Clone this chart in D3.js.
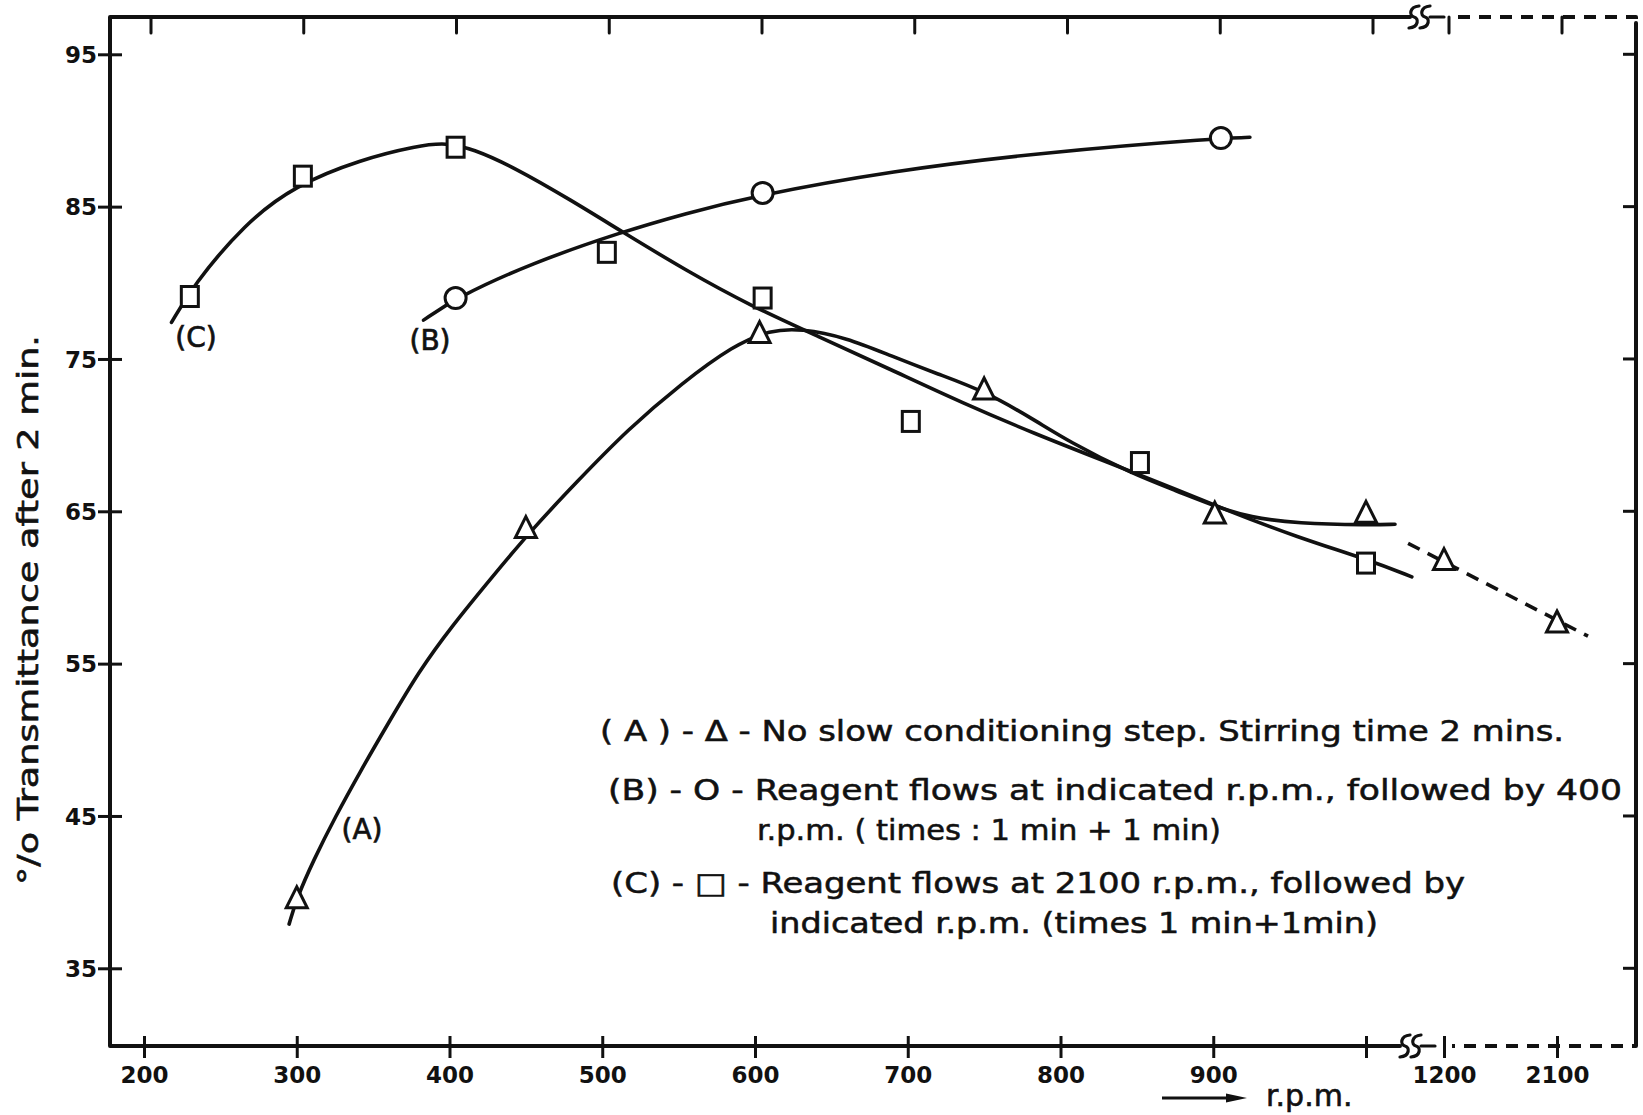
<!DOCTYPE html>
<html>
<head>
<meta charset="utf-8">
<script src="https://cdn.jsdelivr.net/npm/d3@7"></script>
<style>
  html, body { margin: 0; padding: 0; background: #fff; }
  svg { display: block; }
</style>
</head>
<body>
<svg id="chart" width="1643" height="1115"></svg>
<script>
// ---- tick values and labels ----
const rpmTicks = [200, 300, 400, 500, 600, 700, 800, 900, 1000];
const rpmTickLabels = ["200", "300", "400", "500", "600", "700", "800", "900", ""];
const rpmHighTicks = [1200, 2100];
const rpmHighTickLabels = ["1200", "2100"];
const transTicks = [95, 85, 75, 65, 55, 45, 35];

// ---- measured points ----
// (A) no slow conditioning step
const seriesA_rpm = [300, 450, 603, 750, 901, 1000];
const seriesA_pct = [39.5, 63.8, 76.6, 72.9, 64.75, 64.8];
const seriesAHigh_rpm = [1200, 2100];
const seriesAHigh_pct = [61.7, 57.6];
// (B) reagent at indicated r.p.m., then 400 r.p.m.
const seriesB_rpm = [404, 605, 905];
const seriesB_pct = [79.0, 85.9, 89.5];
// (C) reagent at 2100 r.p.m., then indicated r.p.m.
const seriesC_rpm = [230, 304, 404, 503, 605, 702, 852, 1000];
const seriesC_pct = [79.1, 87.0, 88.9, 82.0, 79.0, 70.9, 68.2, 61.6];

// ---- hand-drawn trend curves (knots) ----
const curveA_rpm = [295, 300, 311, 325, 342, 360, 380, 401, 428, 453, 483, 517, 552, 586, 610, 630, 660, 689, 720, 750, 783, 805, 846, 877, 902, 924, 955, 1002, 1019];
const curveA_pct = [37.9, 39.6, 42.1, 44.9, 48.0, 51.1, 54.5, 57.4, 60.7, 63.7, 66.9, 70.4, 73.4, 75.9, 76.9, 77.0, 76.4, 75.2, 74.0, 72.9, 71.0, 69.6, 67.5, 66.3, 65.3, 64.6, 64.2, 64.1, 64.15];
const curveAHigh_rpm = [914, 2347];
const curveAHigh_pct = [62.9, 56.8];
const curveB_rpm = [383, 404, 454, 513, 555, 597, 689, 792, 905, 924];
const curveB_pct = [77.55, 79.0, 81.3, 83.35, 84.56, 85.65, 87.35, 88.6, 89.5, 89.55];
const curveC_rpm = [218, 232, 266, 299, 342, 379, 398, 415, 442, 480, 513, 555, 597, 642, 689, 736, 783, 830, 877, 908, 955, 1002, 1030];
const curveC_pct = [77.4, 79.8, 83.9, 86.4, 88.1, 89.0, 89.2, 88.8, 87.6, 85.4, 83.35, 80.8, 78.5, 76.45, 74.3, 72.1, 70.1, 68.25, 66.4, 65.1, 63.3, 61.8, 60.7];

// ---- text ----
const yAxisTitle = "°/o Transmittance after 2 min.";
const xAxisTitle = "r.p.m.";
const curveNames = ["(A)", "(B)", "(C)"];
const legendLines = [
  "( A ) - Δ - No slow conditioning step. Stirring time 2 mins.",
  "(B) - O - Reagent flows at indicated r.p.m., followed by 400",
  "r.p.m. ( times : 1 min + 1 min)",
  "(C) - □ - Reagent flows at 2100 r.p.m., followed by",
  "indicated r.p.m. (times 1 min+1min)"
];

// ---- layout ----
const frame = { left: 110, top: 17, right: 1636, bottom: 1046 };
const breakX = 1400;
const svg = d3.select("#chart");
const INK = "#111";

const y = d3.scaleLinear().domain([35, 95]).range([968.3, 54.3]);
const xLow = d3.scaleLinear().domain([200, 1000]).range([144, 1366]);
const xHigh = d3.scaleLinear().domain([1200, 2100]).range([1444, 1557]);

const zip = (xs, ys) => xs.map((v, i) => [v, ys[i]]);

// ---- frame ----
const frameG = svg.append("g").attr("fill", "none").attr("stroke", INK)
  .attr("stroke-width", 4).attr("stroke-linecap", "round").attr("stroke-linejoin", "round");
// solid part: top, left, bottom, then right side
frameG.append("path")
  .attr("d", `M${breakX + 10},${frame.top} L${frame.left},${frame.top} L${frame.left},${frame.bottom} L${breakX},${frame.bottom}`);
frameG.append("path")
  .attr("d", `M${frame.right},${frame.top + 6} L${frame.right},${frame.bottom - 6}`);
// dashed continuation past the scale break
frameG.append("path").attr("stroke-dasharray", "12,9").attr("stroke-linecap", "butt")
  .attr("d", `M${1458},${frame.top} L${frame.right},${frame.top} L${frame.right},${frame.top + 8}`);
frameG.append("path").attr("stroke-dasharray", "12,9").attr("stroke-linecap", "butt")
  .attr("d", `M${frame.right},${frame.bottom - 8} L${frame.right},${frame.bottom} L${1452},${frame.bottom}`);

// break marks (double S) on top and bottom edges
function breakMark(cx, cy) {
  const g = svg.append("g").attr("fill", "none").attr("stroke", INK)
    .attr("stroke-width", 3.2).attr("stroke-linecap", "round");
  [0, 11].forEach(off => {
    const x0 = cx + off;
    g.append("path").attr("d",
      `M${x0 + 5},${cy - 11} C${x0 - 5},${cy - 10} ${x0 - 5},${cy - 1} ${x0},${cy} C${x0 + 5},${cy + 1} ${x0 + 5},${cy + 10} ${x0 - 5},${cy + 11}`);
  });
  g.append("path").attr("d", `M${cx + 16},${cy} L${cx + 30},${cy}`);
}
breakMark(breakX + 5, frame.bottom);
breakMark(breakX + 14, frame.top);

// ---- y axis ----
const tickFont = "'DejaVu Sans', sans-serif";
const gy = svg.append("g").attr("transform", `translate(${frame.left},0)`)
  .call(d3.axisLeft(y).tickValues(transTicks).tickSize(0).tickPadding(13));
gy.select(".domain").remove();
gy.selectAll(".tick line").attr("x1", -12).attr("x2", 12).attr("stroke", INK).attr("stroke-width", 3);
gy.selectAll(".tick text").attr("font-family", tickFont).attr("font-weight", "bold")
  .attr("font-size", 23).attr("fill", INK).attr("dy", "0.36em");

// right edge ticks
svg.append("g").selectAll("line").data(transTicks).join("line")
  .attr("x1", frame.right - 13).attr("x2", frame.right)
  .attr("y1", d => y(d)).attr("y2", d => y(d))
  .attr("stroke", INK).attr("stroke-width", 3);

// ---- x axis (linear part and the part past the break) ----
function styleX(g) {
  g.select(".domain").remove();
  g.selectAll(".tick line").attr("y1", -10).attr("y2", 12).attr("stroke", INK).attr("stroke-width", 3);
  g.selectAll(".tick text").attr("font-family", tickFont).attr("font-weight", "bold")
    .attr("font-size", 23).attr("fill", INK).attr("y", 37).attr("dy", 0);
}
svg.append("g").attr("transform", `translate(0,${frame.bottom})`)
  .call(d3.axisBottom(xLow).tickValues(rpmTicks).tickFormat((d, i) => rpmTickLabels[i]).tickSize(0))
  .call(styleX);
svg.append("g").attr("transform", `translate(0,${frame.bottom})`)
  .call(d3.axisBottom(xHigh).tickValues(rpmHighTicks).tickFormat((d, i) => rpmHighTickLabels[i]).tickSize(0))
  .call(styleX);

// top edge ticks (hanging down)
const topTicks = rpmTicks.map(d => xLow(d) + 7).concat(rpmHighTicks.map(d => xHigh(d) + 5));
svg.append("g").selectAll("line").data(topTicks).join("line")
  .attr("x1", d => d).attr("x2", d => d)
  .attr("y1", frame.top).attr("y2", frame.top + 16)
  .attr("stroke", INK).attr("stroke-width", 3).attr("stroke-linecap", "round");

// ---- curves ----
const lineLow = d3.line().x(d => xLow(d[0])).y(d => y(d[1])).curve(d3.curveBasis);
const lineHigh = d3.line().x(d => xHigh(d[0])).y(d => y(d[1]));
const curveG = svg.append("g").attr("fill", "none").attr("stroke", INK)
  .attr("stroke-width", 3.6).attr("stroke-linecap", "round");
curveG.append("path").attr("d", lineLow(zip(curveC_rpm, curveC_pct)));
curveG.append("path").attr("d", lineLow(zip(curveB_rpm, curveB_pct)));
curveG.append("path").attr("d", lineLow(zip(curveA_rpm, curveA_pct)));
curveG.append("path").attr("d", lineHigh(zip(curveAHigh_rpm, curveAHigh_pct)))
  .attr("stroke-dasharray", "13,9").attr("stroke-linecap", "butt");

// ---- markers ----
const markG = svg.append("g").attr("fill", "#fff").attr("stroke", INK).attr("stroke-width", 3);
const triPath = "M0,-13 L10.5,8 L-10.5,8 Z";
markG.selectAll(".triA").data(zip(seriesA_rpm, seriesA_pct)).join("path")
  .attr("d", triPath).attr("transform", d => `translate(${xLow(d[0])},${y(d[1])})`);
markG.selectAll(".triAH").data(zip(seriesAHigh_rpm, seriesAHigh_pct)).join("path")
  .attr("d", triPath).attr("transform", d => `translate(${xHigh(d[0])},${y(d[1])})`);
markG.selectAll("circle").data(zip(seriesB_rpm, seriesB_pct)).join("circle")
  .attr("cx", d => xLow(d[0])).attr("cy", d => y(d[1])).attr("r", 10.5);
markG.selectAll("rect").data(zip(seriesC_rpm, seriesC_pct)).join("rect")
  .attr("x", d => xLow(d[0]) - 8.5).attr("y", d => y(d[1]) - 10).attr("width", 17).attr("height", 20);

// ---- curve names ----
const nameFont = "'DejaVu Sans', sans-serif";
const namePos = [[362, 839], [430, 350], [196, 347]];
svg.append("g").selectAll("text").data(curveNames).join("text")
  .attr("x", (d, i) => namePos[i][0]).attr("y", (d, i) => namePos[i][1])
  .attr("text-anchor", "middle").attr("font-family", nameFont).attr("font-size", 28)
  .attr("fill", INK).attr("stroke", INK).attr("stroke-width", 0.7)
  .text(d => d);

// ---- legend ----
const legendPos = [[600, 741, 964], [608, 800, 1014], [757, 840, 464], [611, 893, 854], [770, 933, 608]];
svg.append("g").selectAll("text").data(legendLines).join("text")
  .attr("x", (d, i) => legendPos[i][0]).attr("y", (d, i) => legendPos[i][1])
  .attr("textLength", (d, i) => legendPos[i][2]).attr("lengthAdjust", "spacingAndGlyphs")
  .attr("font-family", "'DejaVu Sans Condensed', 'Liberation Sans Narrow', 'DejaVu Sans', sans-serif")
  .attr("font-size", 29).attr("fill", INK).attr("stroke", INK).attr("stroke-width", 0.5)
  .text(d => d);

// ---- axis titles ----
svg.append("text")
  .attr("transform", "translate(38,610) rotate(-90)")
  .attr("text-anchor", "middle").attr("font-family", nameFont).attr("font-size", 29)
  .attr("textLength", 550).attr("lengthAdjust", "spacingAndGlyphs")
  .attr("fill", INK).attr("stroke", INK).attr("stroke-width", 0.6)
  .text(yAxisTitle);

svg.append("text")
  .attr("x", 1266).attr("y", 1106)
  .attr("font-family", nameFont).attr("font-size", 30).attr("fill", INK)
  .attr("stroke", INK).attr("stroke-width", 0.6)
  .text(xAxisTitle);

// arrow pointing along the r.p.m. axis
svg.append("path")
  .attr("d", "M1162,1098 L1232,1098").attr("stroke", INK).attr("stroke-width", 3);
svg.append("path")
  .attr("d", "M1226,1093.5 L1247,1098 L1226,1102.5 Z").attr("fill", INK);
</script>
</body>
</html>
